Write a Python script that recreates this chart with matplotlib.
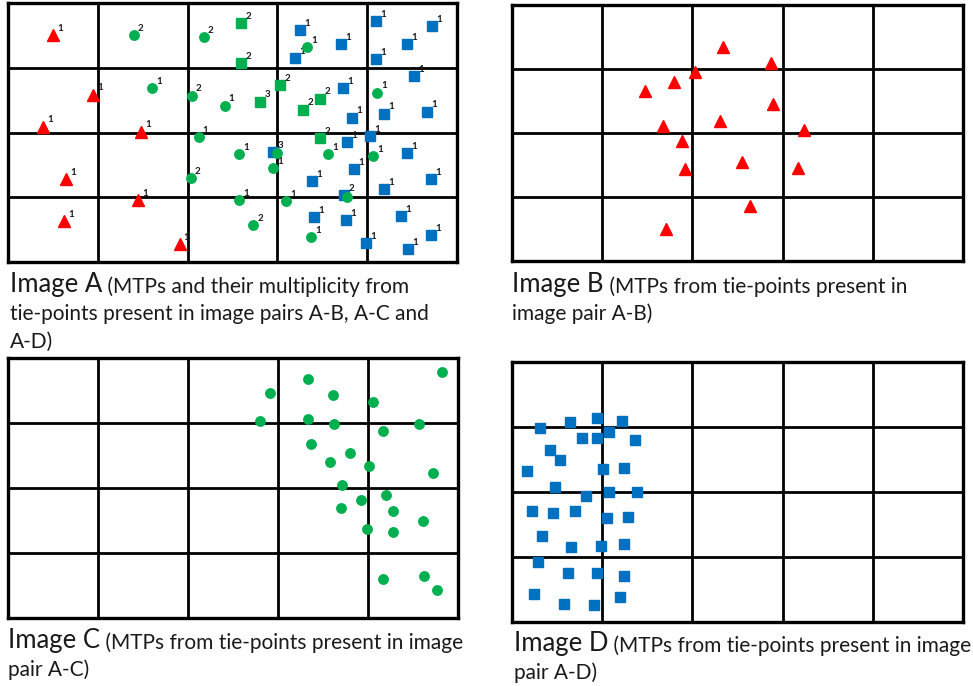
import matplotlib.pyplot as plt

plt.rcParams['font.family'] = ['Lato', 'DejaVu Sans']

# marker positions in image units (each panel is 450 x 260, grid cells 90 x 65)
# Image A: red triangles (pair A-B)
a_red_x = [45, 85, 35, 133, 58, 130, 56, 172]
a_red_y = [32, 92, 124, 129, 177, 198, 219, 242]
a_red_n = ['1', '1', '1', '1', '1', '1', '1', '1']

# Image A: green circles (pair A-C)
a_gc_x = [126, 196, 300, 144, 184, 217, 370, 191, 232, 266, 183, 232, 279, 321, 366, 246, 304, 270, 340]
a_gc_y = [32, 34, 44, 85, 93, 103, 90, 135, 152, 166, 176, 198, 199, 152, 154, 223, 235, 151, 195]
a_gc_n = ['2', '2', '1', '1', '2', '1', '1', '1', '1', '1', '2', '1', '1', '1', '1', '2', '1', '', '']

# Image A: green squares
a_gs_x = [234, 234, 253, 273, 296, 313, 313]
a_gs_y = [20, 60, 99, 82, 107, 96, 136]
a_gs_n = ['2', '2', '3', '2', '2', '2', '2']

# Image A: blue squares (pair A-D)
a_bs_x = [293, 334, 288, 369, 425, 400, 369, 336, 345, 407, 377, 420, 363, 266, 340, 347,
          305, 337, 307, 339, 359, 400, 424, 377, 394, 424, 401]
a_bs_y = [27, 41, 55, 18, 23, 41, 56, 85, 115, 73, 111, 109, 134, 150, 140, 167,
          179, 193, 215, 218, 241, 151, 177, 187, 214, 233, 247]
a_bs_n = ['1', '1', '1', '1', '1', '1', '1', '1', '1', '1', '1', '1', '1', '3', '1', '1',
          '1', '2', '1', '1', '1', '1', '1', '1', '1', '1', '1']

# Image B: red triangles
b_x = [211, 258, 183, 162, 133, 260, 208, 151, 291, 170, 229, 173, 285, 237, 154]
b_y = [43, 59, 68, 78, 87, 101, 118, 123, 127, 138, 159, 167, 166, 204, 227]

# Image C: green circles
c_x = [434, 300, 262, 325, 365, 252, 300, 326, 411, 375, 303, 342, 322, 361, 425, 334, 378,
       353, 333, 385, 415, 359, 385, 375, 416, 429]
c_y = [14, 21, 35, 37, 44, 63, 61, 66, 66, 73, 86, 95, 104, 108, 115, 127, 137,
       142, 150, 153, 163, 171, 174, 221, 218, 232]

# Image D: blue squares
d_x = [85, 58, 110, 28, 97, 70, 85, 123, 38, 48, 15, 91, 112, 43, 74, 97, 125, 20, 41, 63,
       95, 116, 30, 59, 89, 112, 26, 56, 85, 112, 22, 52, 82, 108]
d_y = [56, 60, 59, 66, 70, 76, 76, 78, 88, 98, 109, 107, 106, 125, 134, 130, 130, 149, 151, 149,
       156, 155, 174, 185, 184, 182, 200, 211, 211, 214, 232, 242, 243, 235]

captions = {
    'A': ['(MTPs and their multiplicity from', 'tie-points present in image pairs A-B, A-C and', 'A-D)'],
    'B': ['(MTPs from tie-points present in', 'image pair A-B)'],
    'C': ['(MTPs from tie-points present in image', 'pair A-C)'],
    'D': ['(MTPs from tie-points present in image', 'pair A-D)'],
}

RED = '#ff0000'
GREEN = '#00b050'
BLUE = '#0070c0'
TXT = '#1a1a1a'

W, H = 973, 686
fig = plt.figure(figsize=(W / 100, H / 100), dpi=100)

# panel boxes in pixels: left, top, right, bottom
boxes = {'A': (8, 3, 457, 262), 'B': (512, 5, 963, 261),
         'C': (8, 358, 458, 618), 'D': (512, 362, 963, 622)}


def make_panel(key):
    l, t, r, b = boxes[key]
    ax = fig.add_axes([l / W, 1 - b / H, (r - l) / W, (b - t) / H])
    ax.set_xlim(0, 450)
    ax.set_ylim(260, 0)
    ax.set_xticks([])
    ax.set_yticks([])
    for s in ax.spines.values():
        s.set_linewidth(2.4)
    for gx in [90, 180, 270, 360]:
        ax.axvline(gx, color='black', lw=2.0, zorder=1)
    for gy in [65, 130, 195]:
        ax.axhline(gy, color='black', lw=2.0, zorder=1)
    return ax


def add_labels(ax, xs, ys, labels):
    for x, y, s in zip(xs, ys, labels):
        if s:
            ax.annotate(s, (x, y), xytext=(3, 3), textcoords='offset points',
                        fontsize=7, color=TXT, fontweight='bold', annotation_clip=False)


# Image A
ax = make_panel('A')
ax.plot(a_bs_x, a_bs_y, 's', color=BLUE, ms=6.8, clip_on=False, zorder=3)
ax.plot(a_gs_x, a_gs_y, 's', color=GREEN, ms=6.8, clip_on=False, zorder=3)
ax.plot(a_gc_x, a_gc_y, 'o', color=GREEN, ms=6.8, clip_on=False, zorder=4)
ax.plot(a_red_x, a_red_y, '^', color=RED, ms=8, clip_on=False, zorder=3)
add_labels(ax, a_red_x, a_red_y, a_red_n)
add_labels(ax, a_gc_x, a_gc_y, a_gc_n)
add_labels(ax, a_gs_x, a_gs_y, a_gs_n)
add_labels(ax, a_bs_x, a_bs_y, a_bs_n)

# Image B
ax = make_panel('B')
ax.plot(b_x, b_y, '^', color=RED, ms=8, clip_on=False, zorder=3)

# Image C
ax = make_panel('C')
ax.plot(c_x, c_y, 'o', color=GREEN, ms=6.8, clip_on=False, zorder=3)

# Image D
ax = make_panel('D')
ax.plot(d_x, d_y, 's', color=BLUE, ms=6.8, clip_on=False, zorder=3)

# captions
cap_pos = {'A': (10, 292), 'B': (512, 292), 'C': (8, 648), 'D': (514, 651)}
for key, lines in captions.items():
    x, y = cap_pos[key]
    head = fig.text(x / W, 1 - y / H, 'Image ' + key, fontsize=18.5, color=TXT, va='baseline')
    fig.canvas.draw()
    plt.annotate(' ' + lines[0], xy=(1, 0), xycoords=head, fontsize=15, color=TXT,
                 va='bottom', annotation_clip=False)
    for i, line in enumerate(lines[1:]):
        fig.text(x / W, 1 - (y + 28 * (i + 1)) / H, line, fontsize=15, color=TXT, va='baseline')

fig.savefig('out.png', dpi=100)
